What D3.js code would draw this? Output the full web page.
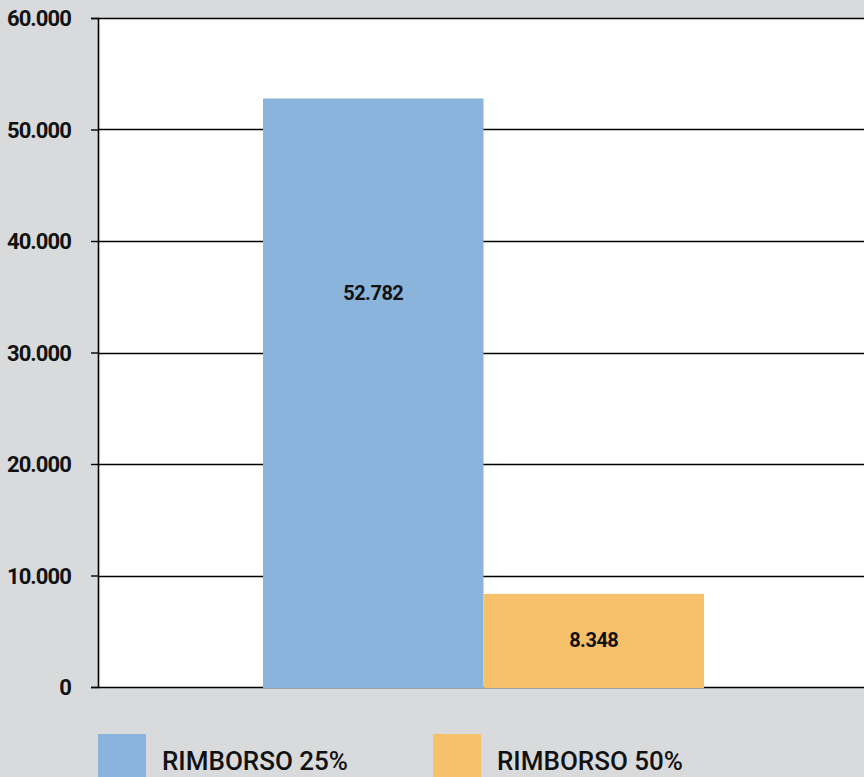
<!DOCTYPE html>
<html>
<head>
<meta charset="utf-8">
<script src="https://cdn.jsdelivr.net/npm/d3@7"></script>
<style>
  html, body { margin: 0; padding: 0; background: #d9dadc; }
  svg { display: block; }
  text { font-family: "Roboto", "DejaVu Sans Condensed", sans-serif; fill: #111; }
</style>
</head>
<body>
<svg id="chart" width="864" height="777"></svg>
<script>
// Rimborsi: number of refunds per rate
const categories = ["RIMBORSO 25%", "RIMBORSO 50%"];
const values = [52782, 8348];
const colors = ["#8ab4dc", "#f7c16b"];
const yTicks = [0, 10000, 20000, 30000, 40000, 50000, 60000];

const W = 864, H = 777;
const plot = { left: 98, right: 864, top: 18, bottom: 687 };

const svg = d3.select("#chart");
const fmt = v => d3.format(",")(v).replace(/,/g, ".");

const y = d3.scaleLinear().domain([0, 60000]).range([plot.bottom, plot.top]);
const x = d3.scaleBand().domain(categories).range([263, 704]).padding(0);

// white plotting area
svg.append("rect")
  .attr("x", plot.left).attr("y", plot.top)
  .attr("width", plot.right - plot.left).attr("height", plot.bottom - plot.top)
  .attr("fill", "#fff");

// horizontal gridlines
svg.append("g").selectAll("line").data(yTicks).join("line")
  .attr("x1", plot.left).attr("x2", plot.right)
  .attr("y1", d => Math.round(y(d)) + 0.5).attr("y2", d => Math.round(y(d)) + 0.5)
  .attr("stroke", "#000").attr("stroke-width", 1.6);

// y axis with outward ticks
const yAxis = d3.axisLeft(y).tickValues(yTicks).tickSize(7).tickPadding(20)
  .tickFormat(fmt);
const ya = svg.append("g").attr("transform", `translate(${plot.left},0)`).call(yAxis);
ya.select(".domain").attr("stroke", "#000").attr("stroke-width", 1.6);
ya.selectAll(".tick line").attr("stroke", "#000").attr("stroke-width", 1.4);
ya.selectAll(".tick text")
  .attr("font-family", "Roboto, sans-serif")
  .attr("font-size", 22).attr("font-weight", "bold").attr("fill", "#111")
  .attr("letter-spacing", "-0.9")
  .attr("dy", "0.35em");

// bars
const data = categories.map((c, i) => ({ c, v: values[i], color: colors[i] }));
svg.append("g").selectAll("rect").data(data).join("rect")
  .attr("x", d => x(d.c)).attr("width", x.bandwidth())
  .attr("y", d => y(d.v)).attr("height", d => plot.bottom + 1 - y(d.v))
  .attr("fill", d => d.color);

// value labels
svg.append("g").selectAll("text").data(data).join("text")
  .attr("x", d => x(d.c) + x.bandwidth() / 2)
  .attr("y", d => d.v > 30000 ? y(d.v) + (plot.bottom - y(d.v)) * 0.33 : (y(d.v) + plot.bottom) / 2)
  .attr("dy", "0.35em")
  .attr("text-anchor", "middle")
  .attr("font-size", 20).attr("font-weight", "bold")
  .attr("letter-spacing", "-0.5")
  .text(d => fmt(d.v));

// legend
const legendX = [98, 433];
const lg = svg.append("g").selectAll("g").data(data).join("g")
  .attr("transform", (d, i) => `translate(${legendX[i]},734)`);
lg.append("rect").attr("width", 48).attr("height", 50).attr("fill", d => d.color);
lg.append("text").attr("x", 64).attr("y", 36)
  .attr("font-size", 26).attr("font-weight", 500)
  .text(d => d.c);
</script>
</body>
</html>
